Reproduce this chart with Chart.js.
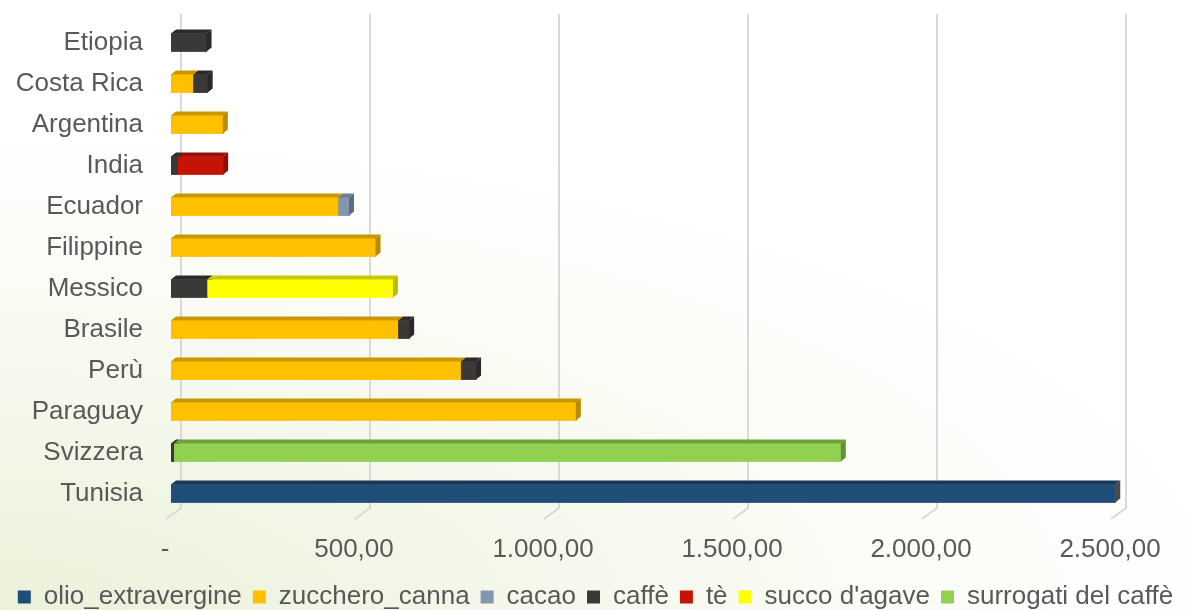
<!DOCTYPE html>
<html>
<head>
<meta charset="utf-8">
<script src="https://cdn.jsdelivr.net/npm/chart.js@4.4.0/dist/chart.umd.min.js"></script>
<style>
  html, body { margin: 0; padding: 0; }
  body {
    width: 1191px; height: 610px; overflow: hidden;
    background: radial-gradient(ellipse 120% 90% at 0% 100%, #ebf1d9 0%, #f5f8ec 40%, #fcfdf9 70%, #ffffff 90%);
  }
  #wrap { position: relative; width: 1191px; height: 610px; }
</style>
</head>
<body>
<div id="wrap"><canvas id="chart"></canvas></div>
<script>
// categories, top to bottom
var categories = ["Etiopia", "Costa Rica", "Argentina", "India", "Ecuador", "Filippine",
                  "Messico", "Brasile", "Perù", "Paraguay", "Svizzera", "Tunisia"];

// series values (one per category, 0 = absent)
var olioExtravergine = [0, 0, 0, 0, 0, 0, 0, 0, 0, 0, 0, 2498];
var zuccheroCanna    = [0, 59, 137, 0, 443, 541, 0, 601, 767, 1071, 0, 0];
var cacao            = [0, 0, 0, 0, 28, 0, 0, 0, 0, 0, 0, 0];
var caffe            = [94, 38, 0, 18, 0, 0, 96, 29, 40, 0, 8, 0];
var te               = [0, 0, 0, 120, 0, 0, 0, 0, 0, 0, 0, 0];
var succoAgave       = [0, 0, 0, 0, 0, 0, 491, 0, 0, 0, 0, 0];
var surrogatiCaffe   = [0, 0, 0, 0, 0, 0, 0, 0, 0, 0, 1764, 0];

// x axis ticks
var tickValues = [0, 500, 1000, 1500, 2000, 2500];

var DX = 5, DY = 4;   // fake 3d depth of the bars

function fmtIt(v) {
  if (v === 0) return "-";
  var parts = Number(v).toFixed(2).split(".");
  var intPart = parts[0].replace(/\B(?=(\d{3})+(?!\d))/g, ".");
  return intPart + "," + parts[1];
}

function mkSet(label, data, color, top, side) {
  return {
    label: label,
    data: data,
    backgroundColor: color,
    topColor: top,
    sideColor: side,
    borderWidth: 0,
    barThickness: 18
  };
}

// back grid lines with the little floor slant
var gridPlugin = {
  id: "grid3d",
  beforeDatasetsDraw: function(chart) {
    var ctx = chart.ctx, xs = chart.scales.x, area = chart.chartArea;
    ctx.save();
    ctx.strokeStyle = "#d9d9d9";
    ctx.lineWidth = 2;
    tickValues.forEach(function(v) {
      var p = xs.getPixelForValue(v);
      ctx.beginPath();
      ctx.moveTo(p + 10, 14);
      ctx.lineTo(p + 10, area.bottom - 6);
      ctx.lineTo(p - 5, area.bottom + 5);
      ctx.stroke();
    });
    ctx.restore();
  }
};

// redraw each bar with a top and a side face, left to right
var depthPlugin = {
  id: "depth3d",
  afterDatasetsDraw: function(chart) {
    var ctx = chart.ctx;
    ctx.save();
    for (var j = 0; j < categories.length; j++) {
      chart.data.datasets.forEach(function(ds, i) {
        if (!ds.data[j]) return;
        var bar = chart.getDatasetMeta(i).data[j];
        var p = bar.getProps(["x", "y", "base", "height"], true);
        var x0 = Math.min(p.base, p.x), x1 = Math.max(p.base, p.x);
        var top = p.y - p.height / 2, bot = p.y + p.height / 2;
        ctx.fillStyle = ds.backgroundColor;
        ctx.fillRect(x0, top, x1 - x0, bot - top);
        ctx.fillStyle = ds.topColor;
        ctx.beginPath();
        ctx.moveTo(x0, top);
        ctx.lineTo(x0 + DX, top - DY);
        ctx.lineTo(x1 + DX, top - DY);
        ctx.lineTo(x1, top);
        ctx.closePath();
        ctx.fill();
        ctx.fillStyle = ds.sideColor;
        ctx.beginPath();
        ctx.moveTo(x1, top);
        ctx.lineTo(x1 + DX, top - DY);
        ctx.lineTo(x1 + DX, bot - DY);
        ctx.lineTo(x1, bot);
        ctx.closePath();
        ctx.fill();
      });
    }
    ctx.restore();
  }
};

var FONT = "'Liberation Sans', Arial, sans-serif";
var TEXT = "#595959";

new Chart(document.getElementById("chart"), {
  type: "bar",
  data: {
    labels: categories,
    datasets: [
      mkSet("olio_extravergine", olioExtravergine, "#1f4e79", "#17385a", "#4a4a4a"),
      mkSet("zucchero_canna", zuccheroCanna, "#ffc000", "#c99700", "#b88a00"),
      mkSet("cacao", cacao, "#8497b0", "#6a7d94", "#5d6e84"),
      mkSet("caffè", caffe, "#3b3838", "#2c2a2a", "#2a2828"),
      mkSet("tè", te, "#c51306", "#9a0e04", "#8a0c03"),
      mkSet("succo d'agave", succoAgave, "#ffff00", "#c9c900", "#b8b800"),
      mkSet("surrogati del caffè", surrogatiCaffe, "#92d050", "#6f9f3b", "#659036")
    ]
  },
  options: {
    indexAxis: "y",
    responsive: true,
    maintainAspectRatio: false,
    animation: false,
    layout: { padding: { top: 22, right: 0, bottom: -10, left: 0 } },
    datasets: { bar: { categoryPercentage: 1, barPercentage: 1 } },
    scales: {
      x: {
        stacked: true,
        min: 0,
        max: 2500,
        grid: { display: false, drawTicks: false },
        border: { display: false },
        afterBuildTicks: function(scale) {
          scale.ticks = tickValues.map(function(v) { return { value: v }; });
        },
        afterFit: function(scale) { scale.height = 59; },
        ticks: {
          padding: 20,
          labelOffset: -6,
          color: TEXT,
          font: { family: FONT, size: 26 },
          maxRotation: 0,
          callback: function(v) { return fmtIt(v); }
        }
      },
      y: {
        stacked: true,
        grid: { display: false, drawTicks: false },
        border: { display: false },
        afterFit: function(scale) {
          scale.width = 171;
          scale.paddingTop = 0;
          scale.paddingBottom = 0;
        },
        ticks: {
          padding: 28,
          color: TEXT,
          font: { family: FONT, size: 26 }
        }
      },
      // empty right axis, only keeps the plot away from the right edge
      yRight: {
        type: "category",
        axis: "y",
        position: "right",
        grid: { display: false, drawTicks: false },
        border: { display: false },
        ticks: { display: false },
        afterFit: function(scale) {
          scale.width = 75;
          scale.paddingTop = 0;
          scale.paddingBottom = 0;
        }
      }
    },
    plugins: {
      legend: {
        position: "bottom",
        labels: {
          boxWidth: 13,
          boxHeight: 13,
          padding: 11,
          color: TEXT,
          font: { family: FONT, size: 26 }
        }
      },
      tooltip: { enabled: false }
    }
  },
  plugins: [gridPlugin, depthPlugin]
});
</script>
</body>
</html>
